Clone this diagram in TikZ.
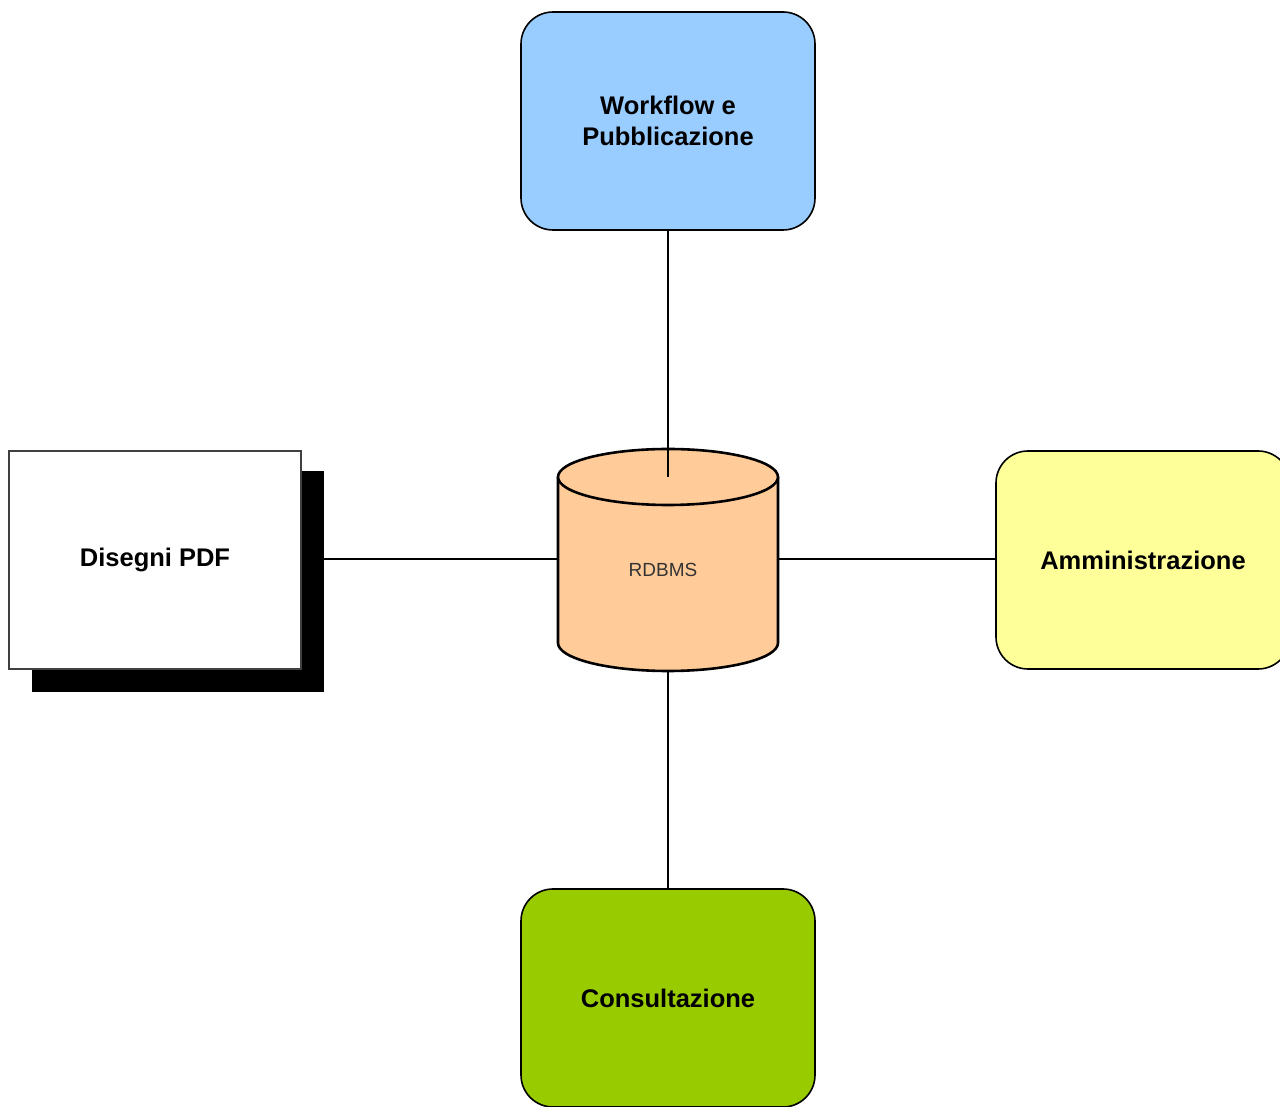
\documentclass[tikz,border=0pt]{standalone}
\usepackage{fontspec}
\setmainfont{Liberation Sans}
\definecolor{wfblue}{HTML}{99CCFF}
\definecolor{amyellow}{HTML}{FFFF99}
\definecolor{cogreen}{HTML}{99CC00}
\definecolor{dbpeach}{HTML}{FFCC99}
\definecolor{dbtext}{HTML}{333333}
\begin{document}
\begin{tikzpicture}[x=1pt,y=1pt,
  modbox/.style={draw=black, line width=1.6pt, rounded corners=32pt,
    minimum width=294pt, minimum height=218pt, inner sep=0pt,
    font=\fontsize{25.5}{31}\selectfont\bfseries, align=center},
  pdfbox/.style={draw=black!75, line width=1.6pt, fill=white,
    minimum width=292pt, minimum height=218pt, inner sep=0pt,
    font=\fontsize{25.5}{31}\selectfont\bfseries},
  conn/.style={line width=1.5pt, draw=black},
  dbline/.style={line width=2.6pt, draw=black}]
\useasboundingbox (0,0) rectangle (1280,1106);
\fill[white] (0,0) rectangle (1280,1106);

\coordinate (dbtop) at (668,629);
\coordinate (dbbot) at (668,436);
\coordinate (dbwest) at (558,547);
\coordinate (dbeast) at (778,547);

% cylinder
\path[fill=dbpeach] (558,629) -- (558,463) arc[start angle=180, end angle=360, x radius=110, y radius=28] -- (778,629) -- cycle;
\draw[dbline] (558,629) -- (558,463) arc[start angle=180, end angle=360, x radius=110, y radius=28] -- (778,629);
\draw[dbline, fill=dbpeach] (668,629) ellipse[x radius=110, y radius=28];
\node[font=\fontsize{19}{23}\selectfont, text=dbtext] (db) at (663,536) {RDBMS};

% modules
\node[modbox, fill=wfblue] (wf) at (668,985) {Workflow e\\Pubblicazione};
\node[modbox, fill=cogreen] (co) at (668,108) {Consultazione};
\node[modbox, fill=amyellow] (am) at (1143,546) {Amministrazione};

% PDF with shadow
\fill[black] (32,414) rectangle (324,635);
\node[pdfbox] (pdf) at (155,546) {Disegni PDF};
\coordinate (pdfshadow) at (324,547);

\draw[conn] (wf.south) -- (wf.south |- dbtop);
\draw[conn] (co.north) -- (co.north |- dbbot);
\draw[conn] (pdfshadow) -- (dbwest);
\draw[conn] (dbeast) -- (dbeast -| am.west);
\end{tikzpicture}
\end{document}
